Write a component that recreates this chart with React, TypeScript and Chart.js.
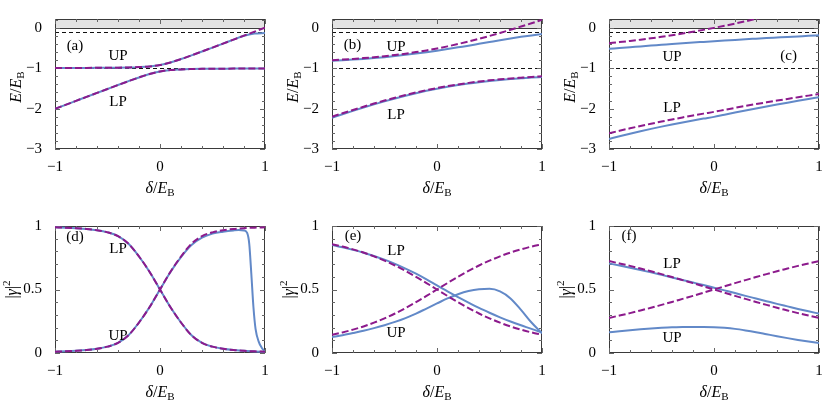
import React, { useEffect, useRef } from "react";
import { Chart, registerables } from "chart.js";
Chart.register(...registerables);

// ---------- data ----------
const delta = [-1, -0.9, -0.8, -0.7, -0.6, -0.5, -0.4, -0.3, -0.2, -0.1, 0, 0.1, 0.2, 0.3, 0.4, 0.5, 0.6, 0.7, 0.8, 0.9, 1];

// (a) energies
const aUpDashed = [-0.994, -0.993, -0.992, -0.991, -0.990, -0.988, -0.985, -0.980, -0.972, -0.956, -0.920, -0.856, -0.772, -0.680, -0.585, -0.488, -0.390, -0.291, -0.192, -0.093, 0.006];
const aLpDashed = [-2.006, -1.907, -1.808, -1.709, -1.611, -1.513, -1.415, -1.320, -1.228, -1.144, -1.080, -1.044, -1.028, -1.020, -1.015, -1.013, -1.011, -1.009, -1.008, -1.007, -1.006];
const aUpSolid = [-0.994, -0.993, -0.992, -0.991, -0.990, -0.988, -0.985, -0.980, -0.972, -0.956, -0.920, -0.856, -0.772, -0.680, -0.585, -0.488, -0.390, -0.291, -0.196, -0.142, -0.126];
const aLpSolid = [-2.006, -1.907, -1.808, -1.709, -1.611, -1.513, -1.415, -1.320, -1.228, -1.144, -1.080, -1.044, -1.028, -1.020, -1.015, -1.013, -1.011, -1.009, -1.008, -1.007, -1.006];

// (b) energies
const bUpDashed = [-0.800, -0.785, -0.768, -0.748, -0.726, -0.700, -0.671, -0.638, -0.600, -0.558, -0.510, -0.458, -0.400, -0.338, -0.271, -0.200, -0.126, -0.048, 0.033, 0.115, 0.200];
const bLpDashed = [-2.200, -2.115, -2.033, -1.952, -1.875, -1.800, -1.729, -1.662, -1.600, -1.542, -1.490, -1.442, -1.400, -1.362, -1.329, -1.300, -1.275, -1.252, -1.233, -1.215, -1.200];
const bUpSolid = [-0.815, -0.800, -0.785, -0.768, -0.748, -0.725, -0.698, -0.668, -0.636, -0.602, -0.565, -0.525, -0.482, -0.440, -0.395, -0.350, -0.305, -0.262, -0.222, -0.186, -0.153];
const bLpSolid = [-2.225, -2.138, -2.055, -1.973, -1.895, -1.820, -1.748, -1.680, -1.617, -1.559, -1.506, -1.458, -1.415, -1.377, -1.344, -1.315, -1.290, -1.267, -1.248, -1.230, -1.215];

// (c) energies
const cUpDashed = [-0.380, -0.352, -0.323, -0.292, -0.258, -0.222, -0.183, -0.141, -0.096, -0.049, 0.000, 0.052, 0.106, 0.163, 0.222, 0.283, 0.346, 0.410, 0.477, 0.547, 0.618];
const cLpDashed = [-2.610, -2.548, -2.488, -2.430, -2.374, -2.320, -2.268, -2.218, -2.170, -2.124, -2.080, -2.030, -1.981, -1.934, -1.888, -1.844, -1.801, -1.759, -1.718, -1.678, -1.640];
const cUpSolid = [-0.520, -0.500, -0.480, -0.459, -0.439, -0.420, -0.400, -0.382, -0.364, -0.347, -0.330, -0.314, -0.298, -0.282, -0.267, -0.252, -0.238, -0.224, -0.211, -0.197, -0.185];
const cLpSolid = [-2.750, -2.685, -2.622, -2.561, -2.502, -2.446, -2.392, -2.341, -2.293, -2.247, -2.204, -2.150, -2.098, -2.047, -1.997, -1.948, -1.900, -1.853, -1.807, -1.762, -1.718];

// (d) weights
const dLpDashed = [0.990, 0.987, 0.983, 0.977, 0.967, 0.950, 0.920, 0.860, 0.760, 0.640, 0.500, 0.360, 0.240, 0.140, 0.080, 0.050, 0.033, 0.023, 0.017, 0.013, 0.010];
const dUpDashed = [0.010, 0.013, 0.017, 0.023, 0.033, 0.050, 0.080, 0.140, 0.240, 0.360, 0.500, 0.640, 0.760, 0.860, 0.920, 0.950, 0.967, 0.977, 0.983, 0.987, 0.990];
const dLpSolid = [0.990, 0.987, 0.983, 0.977, 0.967, 0.950, 0.920, 0.860, 0.760, 0.640, 0.500, 0.360, 0.240, 0.140, 0.080, 0.050, 0.033, 0.023, 0.017, 0.012, 0.008];
const dUpSolidDelta = [-1, -0.9, -0.8, -0.7, -0.6, -0.5, -0.4, -0.3, -0.2, -0.1, 0, 0.1, 0.2, 0.3, 0.4, 0.5, 0.6, 0.7, 0.75, 0.8, 0.83, 0.85, 0.87, 0.89, 0.91, 0.94, 0.97, 1];
const dUpSolid = [0.010, 0.013, 0.017, 0.023, 0.033, 0.050, 0.080, 0.140, 0.240, 0.360, 0.500, 0.638, 0.755, 0.850, 0.908, 0.940, 0.955, 0.965, 0.968, 0.965, 0.945, 0.860, 0.620, 0.360, 0.190, 0.090, 0.040, 0.012];

// (e) weights
const eLpDashed = [0.857, 0.838, 0.816, 0.791, 0.761, 0.727, 0.689, 0.646, 0.600, 0.551, 0.500, 0.449, 0.400, 0.354, 0.311, 0.273, 0.239, 0.209, 0.184, 0.162, 0.143];
const eUpDashed = [0.143, 0.162, 0.184, 0.209, 0.239, 0.273, 0.311, 0.354, 0.400, 0.449, 0.500, 0.551, 0.600, 0.646, 0.689, 0.727, 0.761, 0.791, 0.816, 0.838, 0.857];
const eLpSolid = [0.850, 0.832, 0.812, 0.790, 0.764, 0.735, 0.702, 0.665, 0.625, 0.580, 0.532, 0.485, 0.440, 0.397, 0.355, 0.317, 0.281, 0.248, 0.218, 0.190, 0.160];
const eUpSolid = [0.125, 0.140, 0.157, 0.175, 0.196, 0.219, 0.245, 0.275, 0.310, 0.350, 0.390, 0.430, 0.463, 0.488, 0.502, 0.505, 0.485, 0.430, 0.340, 0.240, 0.155];

// (f) weights
const fLpDashed = [0.724, 0.705, 0.686, 0.665, 0.644, 0.621, 0.598, 0.574, 0.550, 0.525, 0.500, 0.475, 0.450, 0.426, 0.402, 0.379, 0.356, 0.335, 0.314, 0.295, 0.276];
const fUpDashed = [0.276, 0.295, 0.314, 0.335, 0.356, 0.379, 0.402, 0.426, 0.450, 0.475, 0.500, 0.525, 0.550, 0.574, 0.598, 0.621, 0.644, 0.665, 0.686, 0.705, 0.724];
const fLpSolid = [0.705, 0.689, 0.672, 0.654, 0.635, 0.615, 0.595, 0.575, 0.555, 0.535, 0.514, 0.493, 0.472, 0.450, 0.429, 0.408, 0.387, 0.367, 0.347, 0.328, 0.310];
const fUpSolid = [0.163, 0.172, 0.180, 0.187, 0.193, 0.198, 0.202, 0.204, 0.205, 0.205, 0.203, 0.198, 0.190, 0.178, 0.164, 0.148, 0.132, 0.117, 0.103, 0.090, 0.078];

// reference lines and axis ticks
const thresholdLines = [-0.1, -1];
const xTickValues = [-1, 0, 1];
const energyTickValues = [0, -1, -2, -3];
const weightTickValues = [0, 0.5, 1];

// ---------- styles ----------
const SERIF = '"Liberation Serif", "Times New Roman", serif';
const BLUE = "#6289c8";
const PURPLE = "#8c1a8c";

type Seg = { t: string; it?: boolean; sz?: number; dy?: number };
const TITLE_E: Seg[] = [{ t: "E", it: true }, { t: "/" }, { t: "E", it: true }, { t: "B", sz: 11, dy: 4 }];
const TITLE_D: Seg[] = [{ t: "δ", it: true }, { t: "/" }, { t: "E", it: true }, { t: "B", sz: 11, dy: 4 }];
const TITLE_G: Seg[] = [{ t: "|" }, { t: "γ", it: true }, { t: "|" }, { t: "2", sz: 11, dy: -6 }];

function segFont(s: Seg) {
  return `${s.it ? "italic " : ""}${s.sz || 16}px ${SERIF}`;
}

function drawRich(ctx: CanvasRenderingContext2D, segs: Seg[], cx: number, cy: number, rot: boolean) {
  ctx.save();
  ctx.translate(cx, cy);
  if (rot) ctx.rotate(-Math.PI / 2);
  let w = 0;
  for (const s of segs) {
    ctx.font = segFont(s);
    w += ctx.measureText(s.t).width;
  }
  let x = -w / 2;
  ctx.fillStyle = "#000";
  ctx.textBaseline = "middle";
  ctx.textAlign = "left";
  for (const s of segs) {
    ctx.font = segFont(s);
    ctx.fillText(s.t, x, s.dy || 0);
    x += ctx.measureText(s.t).width;
  }
  ctx.restore();
}

type PanelDef = {
  id: string;
  col: number;
  row: number;
  energy: boolean;
  upSolid: { x: number; y: number }[];
  lpSolid: { x: number; y: number }[];
  upDashed: { x: number; y: number }[];
  lpDashed: { x: number; y: number }[];
  tag: string;
  tagAt: [number, number];
  upAt: [number, number];
  lpAt: [number, number];
};

const pts = (xs: number[], ys: number[]) => xs.map((x, i) => ({ x, y: ys[i] }));

const panels: PanelDef[] = [
  { id: "a", col: 0, row: 0, energy: true, upSolid: pts(delta, aUpSolid), lpSolid: pts(delta, aLpSolid), upDashed: pts(delta, aUpDashed), lpDashed: pts(delta, aLpDashed), tag: "(a)", tagAt: [-0.81, -0.45], upAt: [-0.4, -0.69], lpAt: [-0.4, -1.83] },
  { id: "b", col: 1, row: 0, energy: true, upSolid: pts(delta, bUpSolid), lpSolid: pts(delta, bLpSolid), upDashed: pts(delta, bUpDashed), lpDashed: pts(delta, bLpDashed), tag: "(b)", tagAt: [-0.805, -0.42], upAt: [-0.39, -0.48], lpAt: [-0.39, -2.15] },
  { id: "c", col: 2, row: 0, energy: true, upSolid: pts(delta, cUpSolid), lpSolid: pts(delta, cLpSolid), upDashed: pts(delta, cUpDashed), lpDashed: pts(delta, cLpDashed), tag: "(c)", tagAt: [0.71, -0.69], upAt: [-0.4, -0.73], lpAt: [-0.4, -1.98] },
  { id: "d", col: 0, row: 1, energy: false, upSolid: pts(dUpSolidDelta, dUpSolid), lpSolid: pts(delta, dLpSolid), upDashed: pts(delta, dUpDashed), lpDashed: pts(delta, dLpDashed), tag: "(d)", tagAt: [-0.81, 0.91], upAt: [-0.4, 0.137], lpAt: [-0.4, 0.82] },
  { id: "e", col: 1, row: 1, energy: false, upSolid: pts(delta, eUpSolid), lpSolid: pts(delta, eLpSolid), upDashed: pts(delta, eUpDashed), lpDashed: pts(delta, eLpDashed), tag: "(e)", tagAt: [-0.8, 0.92], upAt: [-0.39, 0.16], lpAt: [-0.39, 0.8] },
  { id: "f", col: 2, row: 1, energy: false, upSolid: pts(delta, fUpSolid), lpSolid: pts(delta, fLpSolid), upDashed: pts(delta, fUpDashed), lpDashed: pts(delta, fLpDashed), tag: "(f)", tagAt: [-0.81, 0.92], upAt: [-0.4, 0.12], lpAt: [-0.4, 0.7] },
];

const COL_LEFT = [0, 277, 554];
const COL_W = [277, 277, 276];
const ROW_TOP = [0, 207];
const ROW_H = 207;
const Y_AXIS_W = 55;
const PLOT_W = 210;
const PAD_TOP = [19, 19];
const PLOT_H = [130, 127];

const fmtTick = (v: any) => {
  const n = Number(v);
  return n < 0 ? "\u2212" + Math.abs(n) : String(n);
};

function makeDecor(p: PanelDef) {
  return {
    id: "decor" + p.id,
    beforeDatasetsDraw(chart: any) {
      const { ctx, chartArea: a, scales } = chart;
      const xs = scales.x;
      const ys = scales.y;
      ctx.save();
      if (p.energy) {
        const y0 = ys.getPixelForValue(0);
        ctx.fillStyle = "#e3e3e3";
        ctx.fillRect(a.left, a.top, a.right - a.left, y0 - a.top);
        ctx.strokeStyle = "#3c3c3c";
        ctx.lineWidth = 1;
        ctx.beginPath();
        ctx.moveTo(a.left, Math.round(y0) + 0.5);
        ctx.lineTo(a.right, Math.round(y0) + 0.5);
        ctx.stroke();
        ctx.setLineDash([4, 3]);
        ctx.strokeStyle = "#111";
        for (const v of thresholdLines) {
          const y = Math.round(ys.getPixelForValue(v)) + 0.5;
          ctx.beginPath();
          ctx.moveTo(a.left, y);
          ctx.lineTo(a.right, y);
          ctx.stroke();
        }
        ctx.setLineDash([]);
      }
      // frame
      ctx.strokeStyle = "#3a3a3a";
      ctx.lineWidth = 1;
      ctx.strokeRect(a.left + 0.5, a.top + 0.5, a.right - a.left - 1, a.bottom - a.top - 1);
      // ticks (inward, all sides)
      ctx.strokeStyle = "#666";
      ctx.beginPath();
      for (let i = 0; i <= 10; i++) {
        const v = -1 + 0.2 * i;
        const major = Math.abs(v - Math.round(v)) < 1e-6;
        const len = major ? 5 : 3;
        const x = Math.round(xs.getPixelForValue(v)) + 0.5;
        ctx.moveTo(x, a.bottom);
        ctx.lineTo(x, a.bottom - len);
        ctx.moveTo(x, a.top);
        ctx.lineTo(x, a.top + len);
      }
      const yVals: { v: number; major: boolean }[] = [];
      if (p.energy) {
        for (let i = 0; i <= 16; i++) {
          const v = -3 + 0.2 * i;
          yVals.push({ v, major: Math.abs(v - Math.round(v)) < 1e-6 });
        }
      } else {
        for (let i = 0; i <= 10; i++) {
          const v = 0.1 * i;
          yVals.push({ v, major: i % 5 === 0 });
        }
      }
      for (const t of yVals) {
        const y = Math.round(ys.getPixelForValue(t.v)) + 0.5;
        const len = t.major ? 5 : 3;
        ctx.moveTo(a.left, y);
        ctx.lineTo(a.left + len, y);
        ctx.moveTo(a.right, y);
        ctx.lineTo(a.right - len, y);
      }
      ctx.stroke();
      ctx.restore();
    },
    afterDatasetsDraw(chart: any) {
      const { ctx, scales } = chart;
      const xs = scales.x;
      const ys = scales.y;
      ctx.save();
      ctx.fillStyle = "#000";
      ctx.font = `15px ${SERIF}`;
      ctx.textAlign = "center";
      ctx.textBaseline = "middle";
      const put = (txt: string, at: [number, number]) =>
        ctx.fillText(txt, xs.getPixelForValue(at[0]), ys.getPixelForValue(at[1]));
      put(p.tag, p.tagAt);
      put("UP", p.upAt);
      put("LP", p.lpAt);
      ctx.restore();
    },
    afterDraw(chart: any) {
      const { ctx, chartArea: a } = chart;
      drawRich(ctx, TITLE_D, (a.left + a.right) / 2, a.bottom + 40, false);
      drawRich(ctx, p.energy ? TITLE_E : TITLE_G, a.left - (p.energy ? 38 : 42), (a.top + a.bottom) / 2 + (p.energy ? 3 : 0), true);
    },
  };
}

function PanelChart({ p }: { p: PanelDef }) {
  const ref = useRef<HTMLCanvasElement>(null);
  const w = COL_W[p.col];
  useEffect(() => {
    if (!ref.current) return;
    const padTop = PAD_TOP[p.row];
    const plotH = PLOT_H[p.row];
    const xAxisH = ROW_H - padTop - plotH;
    const padRight = w - Y_AXIS_W - PLOT_W;
    const tickFont = { family: SERIF, size: 15 };
    const solid = (data: any) => ({
      data,
      borderColor: BLUE,
      borderWidth: 2,
      pointRadius: 0,
      fill: false,
      cubicInterpolationMode: "monotone",
    });
    const dashed = (data: any) => ({
      data,
      borderColor: PURPLE,
      borderWidth: 2,
      borderDash: [7, 3],
      pointRadius: 0,
      fill: false,
      cubicInterpolationMode: "monotone",
    });
    // Chart.js paints the first dataset last (on top): dashed model curves first
    const chart = new Chart(ref.current, {
      type: "line",
      data: {
        datasets: [dashed(p.upDashed), dashed(p.lpDashed), solid(p.upSolid), solid(p.lpSolid)] as any,
      },
      options: {
        responsive: false,
        animation: false,
        devicePixelRatio: 1,
        events: [],
        layout: { padding: { top: padTop, right: padRight, left: 0, bottom: 0 } },
        plugins: { legend: { display: false }, tooltip: { enabled: false }, title: { display: false } },
        scales: {
          x: {
            type: "linear",
            min: -1,
            max: 1,
            grid: { display: false },
            border: { display: false },
            afterBuildTicks: (s: any) => {
              s.ticks = xTickValues.map((v) => ({ value: v }));
            },
            ticks: { font: tickFont, color: "#000", padding: 1, maxRotation: 0, minRotation: 0, callback: fmtTick },
            afterFit: (s: any) => {
              s.height = xAxisH;
            },
          },
          y: {
            type: "linear",
            min: p.energy ? -3 : 0,
            max: p.energy ? 0.22 : 1,
            grid: { display: false },
            border: { display: false },
            afterBuildTicks: (s: any) => {
              s.ticks = (p.energy ? energyTickValues : weightTickValues).map((v) => ({ value: v }));
            },
            ticks: { font: tickFont, color: "#000", padding: 5, callback: fmtTick },
            afterFit: (s: any) => {
              s.width = Y_AXIS_W;
            },
          },
        },
      } as any,
      plugins: [makeDecor(p)],
    });
    return () => chart.destroy();
  }, []);
  return (
    <canvas
      ref={ref}
      width={w}
      height={ROW_H}
      style={{ position: "absolute", left: COL_LEFT[p.col], top: ROW_TOP[p.row], width: w, height: ROW_H }}
    />
  );
}

export default function App() {
  return (
    <div style={{ position: "absolute", left: 0, top: 0, width: 830, height: 414, background: "#fff", overflow: "hidden" }}>
      {panels.map((p) => (
        <PanelChart key={p.id} p={p} />
      ))}
    </div>
  );
}
